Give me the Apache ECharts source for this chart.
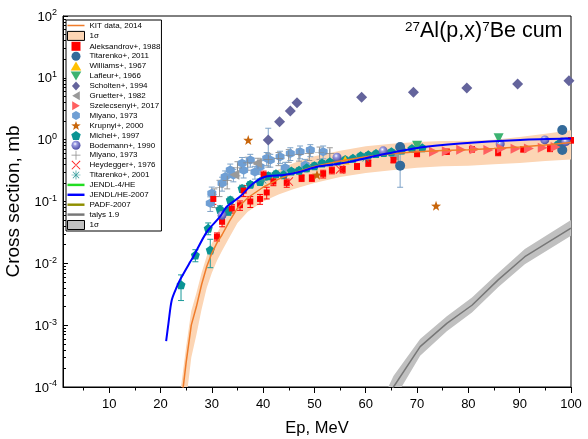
<!DOCTYPE html>
<html>
<head>
<meta charset="utf-8">
<script src="https://cdn.jsdelivr.net/npm/echarts@6/dist/echarts.min.js"></script>
<style>
html, body { margin: 0; background: #fff; }
#chart { width: 588px; height: 439px; }
</style>
</head>
<body>
<div id="chart"></div>
<script>
// tick positions
var xMajor = [10, 20, 30, 40, 50, 60, 70, 80, 90, 100];
var xMinor = [5, 15, 25, 35, 45, 55, 65, 75, 85, 95];
var yMajor = [1e-4, 1e-3, 1e-2, 1e-1, 1, 10, 100];
var yMinor = [];
for (var d = -4; d < 2; d++) {
    for (var k = 2; k < 10; k++) yMinor.push(k * Math.pow(10, d));
}

// KIT data, 2014 with 1 sigma band
var kitE  = [24.0, 25.0, 26.0, 27.0, 28.0, 29.0, 30.0, 31.0, 32.0, 33.5, 35.0, 37.0, 40.0, 43.0, 46.0, 50.0, 55.0, 60.0, 65.0, 70.0, 75.0, 80.0, 85.0, 90.0, 95.0, 100];
var kitV  = [5e-5, 2.5e-4, 1.0e-3, 2.0e-3, 4.5e-3, 8.8e-3, 0.0145, 0.0214, 0.029, 0.049, 0.078, 0.115, 0.17, 0.23, 0.29, 0.37, 0.45, 0.53, 0.59, 0.64, 0.67, 0.69, 0.72, 0.76, 0.82, 0.90];
var kitHi = [1e-4, 4.5e-4, 1.7e-3, 3.3e-3, 7e-3, 0.013, 0.021, 0.031, 0.042, 0.07, 0.11, 0.16, 0.25, 0.33, 0.42, 0.54, 0.66, 0.78, 0.86, 0.92, 0.95, 0.96, 1.0, 1.1, 1.25, 1.42];
var kitLo = [1.5e-5, 6e-5, 3e-4, 7e-4, 1.8e-3, 4e-3, 7e-3, 0.011, 0.016, 0.027, 0.045, 0.068, 0.10, 0.13, 0.16, 0.20, 0.25, 0.29, 0.32, 0.35, 0.37, 0.38, 0.40, 0.42, 0.45, 0.48];

// talys 1.9 with 1 sigma band
var talysE  = [64.4, 65.4, 70.6, 75.8, 80.7, 85.8, 91.0, 100];
var talysV  = [7e-5, 1.0e-4, 4.5e-4, 1.07e-3, 2.1e-3, 5.4e-3, 0.0128, 0.037];
var talysHi = [1.0e-4, 1.5e-4, 6.0e-4, 1.4e-3, 2.8e-3, 7.0e-3, 0.017, 0.05];
var talysLo = [4e-5, 6e-5, 3.2e-4, 8e-4, 1.6e-3, 4.1e-3, 0.0097, 0.028];

// JENDL/HE-2007
var jendlE = [21.1, 21.55, 22.2, 23.2, 23.8, 25.8, 26.4, 29.0, 31.6, 32.9, 35.5, 38.1, 40.4, 44.0, 47.2, 50.5, 54.4, 57.0, 62.8, 70.6, 78.4, 90.1, 100];
var jendlV = [5.5e-4, 1.07e-3, 2.55e-3, 4.2e-3, 5.4e-3, 0.0106, 0.0128, 0.032, 0.057, 0.082, 0.12, 0.197, 0.252, 0.268, 0.303, 0.366, 0.404, 0.44, 0.565, 0.75, 0.87, 0.99, 1.04];

// experiments
var aleksE = [30.3, 31.0, 32.0, 33.9, 35.5, 36.2, 37.5, 39.4, 40.1, 40.7, 42.0, 44.6, 47.5, 49.5, 51.7, 53.4, 55.5, 58.3, 60.5, 65.4, 70.0, 75.8, 80.7, 85.8, 90.7, 95.9, 100];
var aleksV = [0.11, 0.027, 0.047, 0.077, 0.087, 0.15, 0.10, 0.11, 0.27, 0.14, 0.21, 0.20, 0.24, 0.24, 0.28, 0.32, 0.33, 0.37, 0.42, 0.47, 0.59, 0.64, 0.70, 0.62, 0.70, 0.72, 0.98];
var aleksErr = [0.02, 0.004, 0.008, 0.012, 0.015, 0.03, 0.02, 0.02, 0.04, 0.03, 0.03, 0.03, 0.03, 0.03, 0.04, 0.04, 0.04, 0.04, 0.05, 0.05, 0.06, 0.06, 0.07, 0.07, 0.07, 0.08, 0.1];

var tita11E = [66.7, 66.7, 98.3, 98.3, 98.3];
var tita11V = [0.76, 0.38, 1.43, 0.68, 0.9];
var tita11Err = [0.05, 0.21, 0.1, 0.05, 0.06];

var williamsE = [56.0];
var williamsV = [0.47];

var lafleurE = [70.0, 85.9];
var lafleurV = [0.80, 1.05];

var scholtenE = [41.0, 43.2, 45.3, 46.6, 59.2, 69.3, 79.7, 89.6, 99.6];
var scholtenV = [0.99, 1.95, 2.9, 3.96, 4.84, 5.83, 6.85, 7.95, 9.0];
var scholtenErr = [0.54, 0, 0, 0, 0, 0, 0, 0, 0];

var gruetterE = [34.4, 38.8, 65.5];
var gruetterV = [0.27, 0.42, 0.54];

var szelE = [73.3, 75.8, 78.6, 81.2, 83.9, 86.5, 89.2, 91.8, 94.5, 97.0];
var szelV = [0.64, 0.65, 0.69, 0.70, 0.68, 0.72, 0.71, 0.72, 0.74, 0.76];

var miyanoE = [29.7, 30.0, 32.0, 32.6, 33.6, 34.2, 35.9, 36.2, 37.5, 38.4, 39.4, 40.7, 41.4, 43.3, 44.3, 45.3, 47.2, 48.2, 49.2, 51.7];
var miyanoV = [0.094, 0.136, 0.197, 0.252, 0.323, 0.268, 0.415, 0.32, 0.469, 0.30, 0.366, 0.50, 0.469, 0.53, 0.35, 0.60, 0.64, 0.39, 0.68, 0.64];
var miyanoErr = [0.025, 0.035, 0.05, 0.06, 0.08, 0.06, 0.1, 0.08, 0.11, 0.07, 0.09, 0.12, 0.11, 0.12, 0.08, 0.14, 0.15, 0.09, 0.15, 0.15];

var krupE = [37.1, 50.5, 73.7];
var krupV = [0.99, 0.27, 0.085];

var michelE = [24.0, 26.8, 29.3, 29.7, 31.6, 33.2, 33.6, 35.9, 37.5, 39.4, 41.0, 42.5, 44.0, 45.5, 47.0, 48.5, 50.0, 51.5, 53.0, 54.5, 56.0, 57.5, 59.0, 60.5, 62.0, 63.5, 65.0, 67.0, 69.0, 71.0, 97.5];
var michelV = [0.0045, 0.0136, 0.037, 0.0165, 0.075, 0.07, 0.106, 0.163, 0.19, 0.21, 0.26, 0.28, 0.27, 0.31, 0.32, 0.35, 0.38, 0.42, 0.44, 0.45, 0.48, 0.50, 0.55, 0.57, 0.60, 0.62, 0.64, 0.68, 0.72, 0.74, 0.85];
var michelErr = [0.002, 0.003, 0.008, 0.008, 0.01, 0.01, 0.012, 0.02, 0.02, 0.02, 0.03, 0.03, 0.03, 0.03, 0.03, 0.03, 0.04, 0.04, 0.04, 0.04, 0.04, 0.04, 0.05, 0.05, 0.05, 0.05, 0.05, 0.05, 0.06, 0.06, 0.07];

var bodeE = [32.0, 54.4, 63.4, 86.2, 94.9, 99.0];
var bodeV = [0.06, 0.52, 0.66, 0.85, 0.99, 0.93];

var miyPlusE = [30.5, 31.5, 33.0, 35.0, 37.0, 39.0, 41.0, 43.0, 45.0, 47.0, 49.0, 51.0, 53.0];
var miyPlusV = [0.12, 0.17, 0.22, 0.35, 0.42, 0.40, 0.48, 0.50, 0.56, 0.58, 0.60, 0.62, 0.60];
var miyPlusErr = [0.04, 0.05, 0.06, 0.09, 0.1, 0.1, 0.12, 0.12, 0.13, 0.13, 0.14, 0.14, 0.14];

var heydE = [45.0, 55.0];
var heydV = [0.21, 0.33];

var tita01E = [40.0, 60.0];
var tita01V = [0.22, 0.50];

// symbols (paths so that legend icons keep their aspect)
var square = 'path://M0,0H10V10H0Z';
var triUp = 'path://M0,-9L10,8L-10,8Z';
var triDown = 'path://M0,9L10,-8L-10,-8Z';
var triLeft = 'path://M-9,0L8,10L8,-10Z';
var triRight = 'path://M9,0L-8,10L-8,-10Z';
var diamond = 'path://M0,-10L9,0L0,10L-9,0Z';
var hexagon = 'path://M0,-10L8.66,-5L8.66,5L0,10L-8.66,5L-8.66,-5Z';
var pentagon = 'path://M0,-10L9.51,-3.09L5.88,8.09L-5.88,8.09L-9.51,-3.09Z';
var star = 'path://M0,-10L2.35,-3.24L9.51,-3.09L3.8,1.24L5.88,8.09L0,4L-5.88,8.09L-3.8,1.24L-9.51,-3.09L-2.35,-3.24Z';
var plus = 'path://M-0.8,-10H0.8V-0.8H10V0.8H0.8V10H-0.8V0.8H-10V-0.8H-0.8Z';
var cross = 'path://M-7.6,-6.5L6.5,7.6L7.6,6.5L-6.5,-7.6Z M6.5,-7.6L7.6,-6.5L-6.5,7.6L-7.6,6.5Z';
var asterisk = 'path://M-0.8,-10H0.8V-0.8H10V0.8H0.8V10H-0.8V0.8H-10V-0.8H-0.8Z M-7.6,-6.5L6.5,7.6L7.6,6.5L-6.5,-7.6Z M6.5,-7.6L7.6,-6.5L-6.5,7.6L-7.6,6.5Z';
var lineIcon = 'path://M0,0H18V1.6H0Z';
var thickLineIcon = 'path://M0,0H18V2.6H0Z';

function pairs(xs, ys) {
    return xs.map(function (x, i) { return [x, ys[i]]; });
}

function bandSeries(name, xs, lo, hi, color) {
    return {
        name: name,
        type: 'custom',
        silent: true,
        data: [[xs[0], hi[0]]],
        renderItem: function (params, api) {
            var pts = [];
            for (var i = 0; i < xs.length; i++) pts.push(api.coord([xs[i], hi[i]]));
            for (var j = xs.length - 1; j >= 0; j--) pts.push(api.coord([xs[j], lo[j]]));
            var cs = params.coordSys;
            return {
                type: 'polygon',
                shape: { points: pts },
                style: { fill: color },
                clipPath: { type: 'rect', shape: { x: cs.x, y: cs.y, width: cs.width, height: cs.height } }
            };
        }
    };
}

function errSeries(xs, ys, errs, color) {
    return {
        type: 'custom',
        silent: true,
        data: xs.map(function (x, i) {
            return [x, Math.max(ys[i] - errs[i], 1e-6), ys[i] + errs[i]];
        }).filter(function (r, i) { return errs[i] > 0; }),
        encode: { x: 0, y: [1, 2] },
        renderItem: function (params, api) {
            var x = api.value(0);
            var top = api.coord([x, api.value(2)]);
            var bot = api.coord([x, api.value(1)]);
            var h = 3;
            var st = { stroke: color, lineWidth: 1 };
            return {
                type: 'group',
                children: [
                    { type: 'line', shape: { x1: top[0], y1: top[1], x2: bot[0], y2: bot[1] }, style: st },
                    { type: 'line', shape: { x1: top[0] - h, y1: top[1], x2: top[0] + h, y2: top[1] }, style: st },
                    { type: 'line', shape: { x1: bot[0] - h, y1: bot[1], x2: bot[0] + h, y2: bot[1] }, style: st }
                ]
            };
        }
    };
}

function scatter(name, xs, ys, symbol, size, color) {
    return {
        name: name,
        type: 'scatter',
        data: pairs(xs, ys),
        symbol: symbol,
        symbolSize: size,
        itemStyle: { color: color, opacity: 1 }
    };
}

function lineSeries(name, xs, ys, color, width, icon) {
    return {
        name: name, type: 'line', data: pairs(xs, ys), symbol: 'none', showSymbol: false,
        legendIcon: icon,
        lineStyle: { color: color, width: width }, itemStyle: { color: color }
    };
}

var chart = echarts.init(document.getElementById('chart'));

var font = 'Liberation Sans, Arial, sans-serif';

var jendl = lineSeries('JENDL/HE-2007', jendlE, jendlV, '#0000ff', 2, thickLineIcon);
jendl.smooth = 0.3;

var option = {
    animation: false,
    textStyle: { fontFamily: font },
    grid: {
        left: 63, right: 17, top: 16, bottom: 52, containLabel: false, outerBoundsMode: 'none',
        show: true, borderColor: '#000', borderWidth: 1
    },
    xAxis: [{
        type: 'value', min: 1, max: 100, position: 'bottom',
        name: 'Ep, MeV', nameLocation: 'middle', nameGap: 33,
        nameTextStyle: { fontSize: 16.5, color: '#000', fontFamily: font },
        axisLine: { onZero: false, lineStyle: { color: '#000', width: 1 } },
        axisTick: { customValues: xMajor, length: 6, lineStyle: { color: '#000' } },
        axisLabel: { customValues: xMajor, fontSize: 13, color: '#000', margin: 11, fontFamily: font },
        splitLine: { show: false }
    }, {
        type: 'value', min: 1, max: 100, position: 'bottom',
        axisLine: { show: false },
        axisTick: { customValues: xMinor, length: 3.5, lineStyle: { color: '#000' } },
        axisLabel: { show: false },
        splitLine: { show: false }
    }],
    yAxis: [{
        type: 'log', logBase: 10, min: 1e-4, max: 100, position: 'left',
        name: 'Cross section, mb', nameLocation: 'middle', nameGap: 38,
        nameTextStyle: { fontSize: 19, color: '#000', fontFamily: font },
        axisLine: { show: true, lineStyle: { color: '#000', width: 1 } },
        axisTick: { inside: true, customValues: yMajor, length: 5, lineStyle: { color: '#000' } },
        axisLabel: {
            customValues: yMajor, margin: 6, color: '#000',
            formatter: function (v) {
                var e = Math.round(Math.log10(v));
                return '{b|10}{s|' + e + '}';
            },
            rich: {
                b: { fontSize: 13, color: '#000', fontFamily: font, verticalAlign: 'bottom' },
                s: { fontSize: 9, color: '#000', fontFamily: font, verticalAlign: 'bottom', padding: [0, 0, 6, 0] }
            }
        },
        splitLine: { show: false }
    }, {
        type: 'log', logBase: 10, min: 1e-4, max: 100, position: 'left',
        axisLine: { show: false },
        axisTick: { inside: true, customValues: yMinor, length: 3, lineStyle: { color: '#000' } },
        axisLabel: { show: false },
        splitLine: { show: false }
    }],
    legend: {
        orient: 'vertical', left: 66, top: 20,
        padding: [1, 1, 1, 1], itemGap: 0.9, itemWidth: 17, itemHeight: 9,
        symbolKeepAspect: true,
        borderColor: '#000', borderWidth: 1, backgroundColor: '#fff',
        selectedMode: false,
        textStyle: { fontSize: 8, color: '#000', lineHeight: 9, fontFamily: font },
        data: [
            { name: 'KIT data, 2014', icon: lineIcon },
            { name: '1σ', icon: 'rect', itemStyle: { color: '#fcd5b4', borderColor: '#000', borderWidth: 1 } },
            'Aleksandrov+, 1988', 'Titarenko+, 2011', 'Williams+, 1967', 'Lafleur+, 1966',
            'Scholten+, 1994', 'Gruetter+, 1982', 'Szelecsenyi+, 2017', 'Miyano, 1973',
            'Krupnyi+, 2000', 'Michel+, 1997', 'Bodemann+, 1990', 'Miyano, 1973 ',
            'Heydegger+, 1976', 'Titarenko+, 2001',
            { name: 'JENDL-4/HE', icon: thickLineIcon },
            { name: 'JENDL/HE-2007', icon: thickLineIcon },
            { name: 'PADF-2007', icon: thickLineIcon },
            { name: 'talys 1.9', icon: thickLineIcon },
            { name: '1σ ', icon: 'rect', itemStyle: { color: '#c0c0c0', borderColor: '#000', borderWidth: 1 } }
        ]
    },
    graphic: [{
        type: 'text', x: 405, y: 20, silent: true,
        style: {
            text: '{s|27}{b|Al(p,x)}{s|7}{b|Be cum}',
            rich: {
                b: { fontSize: 21.5, fill: '#000', fontFamily: font, verticalAlign: 'bottom' },
                s: { fontSize: 13.5, fill: '#000', fontFamily: font, verticalAlign: 'bottom', padding: [0, 0, 8, 0] }
            }
        }
    }],
    series: [
        bandSeries('1σ', kitE, kitLo, kitHi, '#fcd5b4'),
        bandSeries('1σ ', talysE, talysLo, talysHi, '#c0c0c0'),
        lineSeries('KIT data, 2014', kitE, kitV, '#f07c2a', 1.5, lineIcon),
        lineSeries('talys 1.9', talysE, talysV, '#777777', 1.5, thickLineIcon),
        errSeries(miyPlusE, miyPlusV, miyPlusErr, '#999999'),
        errSeries(miyanoE, miyanoV, miyanoErr, '#7ea3c8'),
        errSeries(michelE, michelV, michelErr, '#1a9a9a'),
        errSeries(aleksE, aleksV, aleksErr, '#ff0000'),
        errSeries(tita11E, tita11V, tita11Err, '#7ea3c8'),
        errSeries(scholtenE, scholtenV, scholtenErr, '#7ea3c8'),
        scatter('Miyano, 1973', miyanoE, miyanoV, hexagon, 9, '#6f9fd4'),
        scatter('Miyano, 1973 ', miyPlusE, miyPlusV, plus, 9, '#888888'),
        scatter('Gruetter+, 1982', gruetterE, gruetterV, triLeft, 10, '#999999'),
        scatter('Michel+, 1997', michelE, michelV, pentagon, 9, '#0a9494'),
        scatter('Aleksandrov+, 1988', aleksE, aleksV, square, 6, '#ff0000'),
        scatter('Titarenko+, 2011', tita11E, tita11V, 'circle', 10, '#336a9a'),
        scatter('Scholten+, 1994', scholtenE, scholtenV, diamond, 11, '#64649c'),
        scatter('Krupnyi+, 2000', krupE, krupV, star, 10, '#c8650a'),
        scatter('Bodemann+, 1990', bodeE, bodeV, 'circle', 9, {
            type: 'radial', x: 0.4, y: 0.35, r: 0.6,
            colorStops: [{ offset: 0, color: '#ffffff' }, { offset: 0.35, color: '#9a9ae0' }, { offset: 1, color: '#5555a8' }]
        }),
        scatter('Szelecsenyi+, 2017', szelE, szelV, triRight, 10, '#ff6060'),
        scatter('Lafleur+, 1966', lafleurE, lafleurV, triDown, 10, '#3cb371'),
        scatter('Williams+, 1967', williamsE, williamsV, triUp, 9, '#ffc000'),
        scatter('Heydegger+, 1976', heydE, heydV, cross, 9, '#ff2020'),
        scatter('Titarenko+, 2001', tita01E, tita01V, asterisk, 9, '#2f9a9a'),
        lineSeries('JENDL-4/HE', [], [], '#22dd22', 2, thickLineIcon),
        lineSeries('PADF-2007', [], [], '#8f8f00', 1.5, thickLineIcon),
        jendl
    ]
};

chart.setOption(option);
</script>
</body>
</html>
